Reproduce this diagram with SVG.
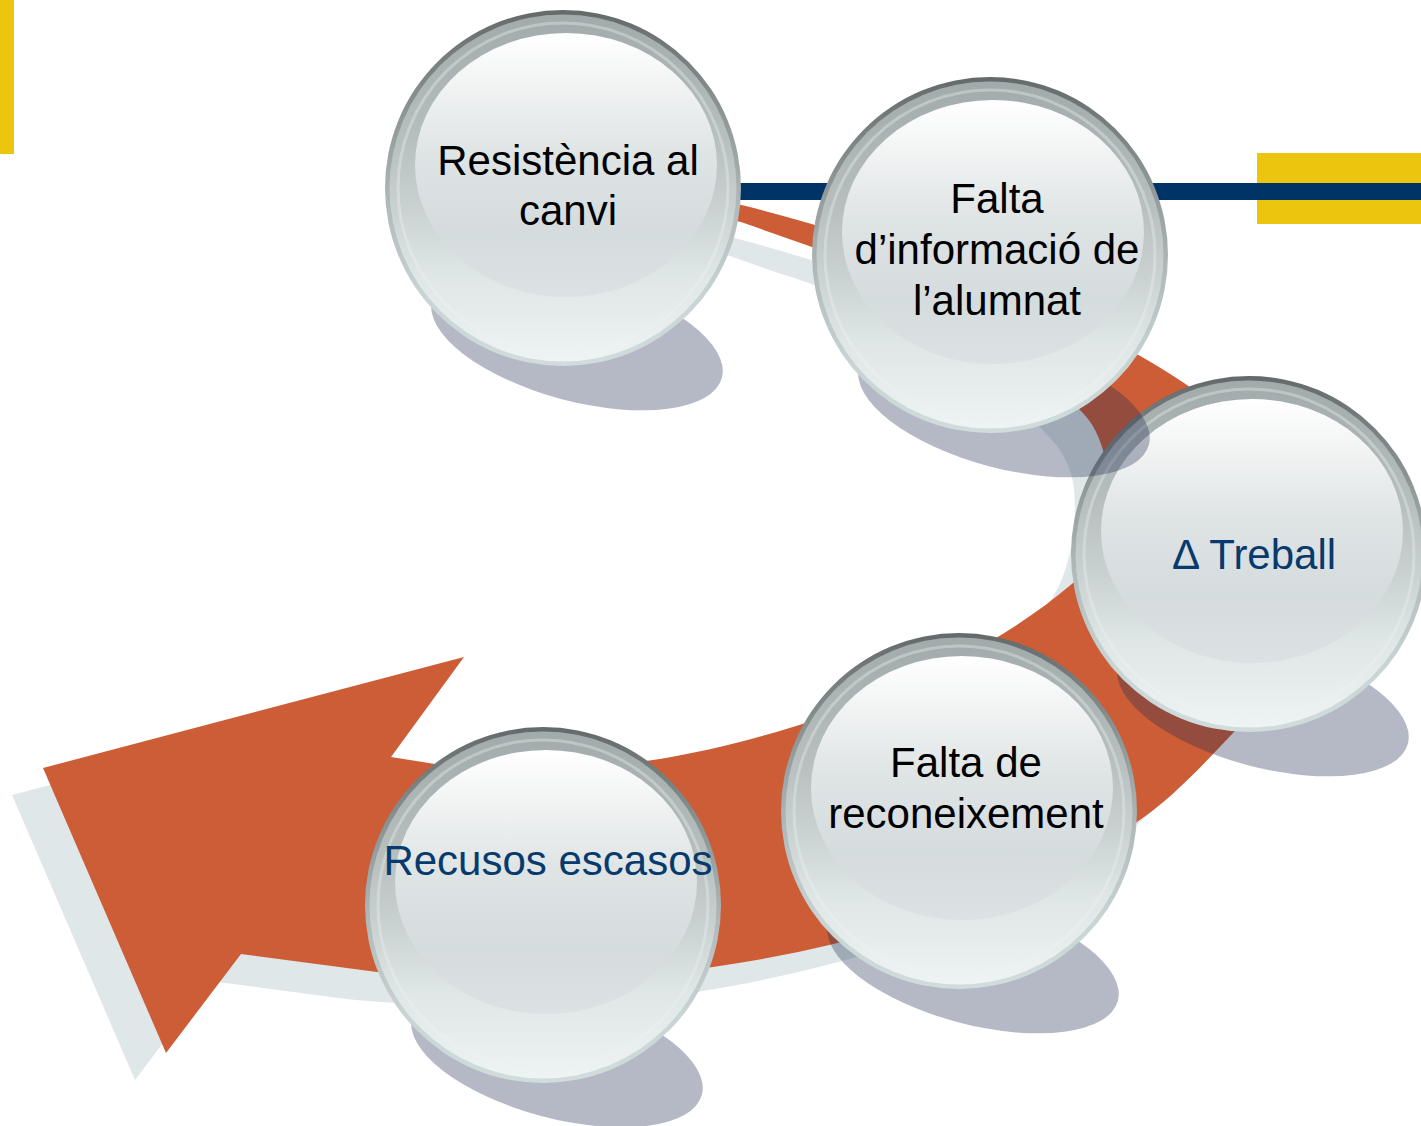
<svg xmlns="http://www.w3.org/2000/svg" xmlns:xlink="http://www.w3.org/1999/xlink" width="1421" height="1126" viewBox="0 0 1421 1126">
<style>
.lbl{font-family:"Liberation Sans",Arial,sans-serif;font-size:42px;text-anchor:middle}
.dark{fill:#000000}
.navy{fill:#073a6d}
.shadow{fill:#1f2a50;opacity:0.33}
</style>
<defs>
<linearGradient id="gRimOuter" x1="0" y1="0" x2="0" y2="1">
<stop offset="0" stop-color="#646a6a"/>
<stop offset="0.3" stop-color="#8e9696"/>
<stop offset="0.55" stop-color="#b1baba"/>
<stop offset="0.8" stop-color="#c8d3d3"/>
<stop offset="1" stop-color="#d1dddd"/>
</linearGradient>
<linearGradient id="gRimMid" x1="0" y1="0" x2="0" y2="1">
<stop offset="0" stop-color="#a2abab"/>
<stop offset="0.35" stop-color="#b6bebe"/>
<stop offset="0.55" stop-color="#c9d0d0"/>
<stop offset="0.75" stop-color="#dfe6e6"/>
<stop offset="1" stop-color="#eef3f3"/>
</linearGradient>
<linearGradient id="gFace" x1="0" y1="0" x2="0" y2="1">
<stop offset="0" stop-color="#ffffff"/>
<stop offset="0.15" stop-color="#f5f6f6"/>
<stop offset="0.45" stop-color="#dfe4e5"/>
<stop offset="0.75" stop-color="#d5dcde"/>
<stop offset="1" stop-color="#dce2e3"/>
</linearGradient>
<g id="ball">
<circle r="178" fill="url(#gRimOuter)"/>
<circle r="173.5" fill="url(#gRimMid)"/>
<circle r="165" fill="none" stroke="#eef3f3" stroke-width="3" opacity="0.35"/>
<ellipse cx="3" cy="-23" rx="151" ry="132" fill="url(#gFace)"/>
</g>
<path id="arrowShape" d="M 640 186 C 760 198, 1050 290, 1187 385 C 1245 425, 1290 490, 1290 570 C 1290 640, 1265 700, 1233 733 C 1200 768, 1170 800, 1137 822 C 1050 880, 900 940, 713 967 C 620 980, 470 982, 377 972 L 241 954 L 166 1053 L 43 768 L 464 657 L 391 757 L 435 764 C 520 772, 600 768, 653 760 C 780 740, 960 680, 1073 583 C 1100 560, 1112 490, 1103 450 C 1097 430, 1090 420, 1080 410 C 1020 340, 880 265, 812 247 L 741 222 L 640 201 Z"/>
</defs>

<g id="background">
<rect x="0" y="0" width="14" height="154" fill="#ecc60e"/>
<rect x="1257" y="153" width="164" height="71" fill="#ecc60e"/>
<rect x="600" y="183" width="821" height="17" fill="#003366"/>
</g>

<g id="connectors">
<use xlink:href="#arrowShape" href="#arrowShape" transform="translate(-31,27)" fill="#e0e7e9"/>
<use xlink:href="#arrowShape" href="#arrowShape" fill="#cc5d37"/>
</g>

<g id="node-treball">
<ellipse class="shadow" cx="1263" cy="705" rx="150" ry="62" transform="rotate(15 1263 705)"/>
<use xlink:href="#ball" href="#ball" transform="translate(1249,554)"/>
<text class="lbl navy" x="1254" y="569">Δ Treball</text>
</g>

<g id="node-resistencia">
<ellipse class="shadow" cx="577" cy="339" rx="150" ry="62" transform="rotate(15 577 339)"/>
<use xlink:href="#ball" href="#ball" transform="translate(563,188)"/>
<text class="lbl dark" x="568" y="175">Resistència al</text>
<text class="lbl dark" x="568" y="225">canvi</text>
</g>

<g id="node-informacio">
<ellipse class="shadow" cx="1004" cy="406" rx="150" ry="62" transform="rotate(15 1004 406)"/>
<use xlink:href="#ball" href="#ball" transform="translate(990,255)"/>
<text class="lbl dark" x="997" y="213">Falta</text>
<text class="lbl dark" x="997" y="264">d’informació de</text>
<text class="lbl dark" x="997" y="315">l’alumnat</text>
</g>

<g id="node-reconeixement">
<ellipse class="shadow" cx="973" cy="962" rx="150" ry="62" transform="rotate(15 973 962)"/>
<use xlink:href="#ball" href="#ball" transform="translate(959,811)"/>
<text class="lbl dark" x="966" y="777">Falta de</text>
<text class="lbl dark" x="966" y="828">reconeixement</text>
</g>

<g id="node-recursos">
<ellipse class="shadow" cx="557" cy="1056" rx="150" ry="62" transform="rotate(15 557 1056)"/>
<use xlink:href="#ball" href="#ball" transform="translate(543,905)"/>
<text class="lbl navy" x="548" y="875">Recusos escasos</text>
</g>
</svg>
